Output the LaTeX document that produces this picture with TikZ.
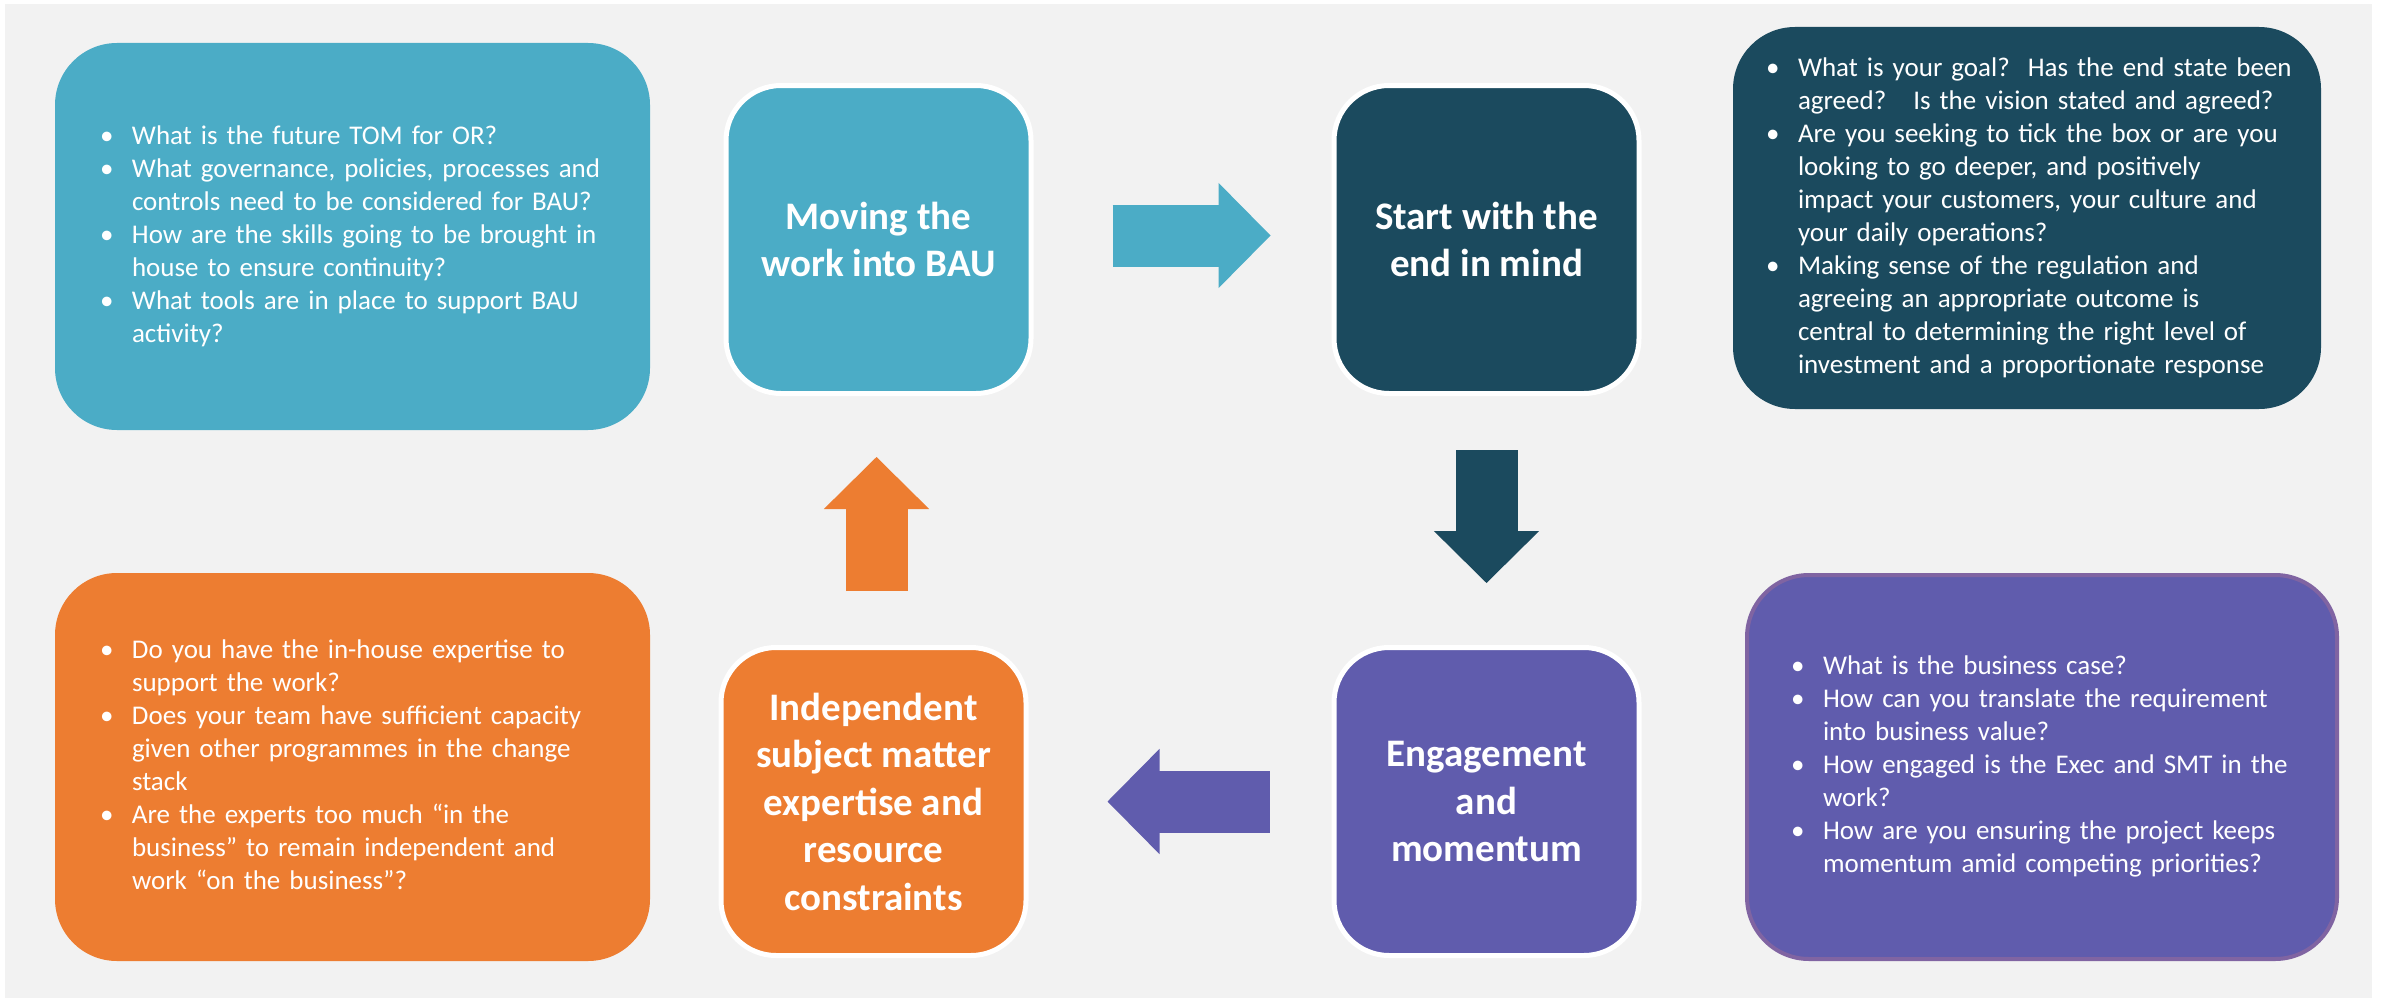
\documentclass[tikz,border=0pt]{standalone}
\usepackage{fontspec}
\setmainfont{Carlito}
\usepackage{xcolor}
\usepackage{tikz}
\usetikzlibrary{arrows.meta, positioning}
\definecolor{bauteal}{RGB}{75, 172, 198}
\definecolor{deepteal}{RGB}{27, 74, 94}
\definecolor{brandorange}{RGB}{237, 125, 49}
\definecolor{engagepurple}{RGB}{96, 92, 173}
\definecolor{lilacedge}{RGB}{128, 100, 162}
\definecolor{slidegray}{RGB}{242, 242, 242}
\tikzstyle{stage} = [
    rectangle, 
    rounded corners=55pt, 
    minimum width=305pt, 
    minimum height=308pt, 
    draw=white, 
    line width=5pt, 
    text=white, 
    align=center, 
    font=\fontsize{39}{47.5}\selectfont\bfseries
]
\tikzstyle{notes} = [
    rectangle, 
    rounded corners=62pt, 
    text=white, 
    align=left, 
    font=\fontsize{27}{33}\selectfont
]
\tikzstyle{flow} = [
    line width=62pt, 
    -{Triangle[length=52pt, width=105pt, line width=1.5pt]}
]
% bulleted questions, one row per printed line
\newcommand{\qlist}[1]{\noindent\begin{tabular}{@{}p{32pt}@{}l@{}}#1\end{tabular}}

\begin{document}
\begin{tikzpicture}[x=1pt, y=-1pt]
        \useasboundingbox (0,0) rectangle (2382,998);
        \fill[slidegray] (5,4) rectangle (2372,998);

        % the cycle
        \node[stage, fill=bauteal] (bau) at (878.5,239.5) {Moving the\\work into BAU};
        \node[stage, fill=deepteal, right=298pt of bau] (endmind) {Start with the\\end in mind};
        \node[stage, fill=engagepurple, below=249pt of endmind] (engage) {Engagement\\and\\momentum};
        \node[stage, fill=brandorange, left=303pt of engage] (subject) {Independent\\subject matter\\expertise and\\resource\\constraints};

        \draw[flow, bauteal, shorten <=79pt, shorten >=61pt] ([yshift=4pt]bau.east) -- ([yshift=4pt]endmind.west);
        \draw[flow, deepteal, shorten <=54pt, shorten >=62pt] (endmind.south) -- (engage.north);
        \draw[flow, engagepurple, shorten <=62pt, shorten >=79pt] (engage.west) -- (subject.east);
        \draw[flow, brandorange, shorten <=54pt, shorten >=61pt] ([xshift=3pt]subject.north) -- ([xshift=3pt]subject.north |- bau.south);

        % questions beside each stage
        \node[notes, fill=bauteal, text width=505pt, inner xsep=45pt, minimum height=387pt] (futuretom) at (352.5,236.5) {\qlist{
            \textbullet & What is the future TOM for OR?\\
            \textbullet & What governance, policies, processes and\\
                        & controls need to be considered for BAU?\\
            \textbullet & How are the skills going to be brought in\\
                        & house to ensure continuity?\\
            \textbullet & What tools are in place to support BAU\\
                        & activity?}};
        \node[notes, fill=deepteal, text width=522pt, inner xsep=33pt, minimum height=382pt] (goal) at (2027,218) {\qlist{
            \textbullet & What is your goal?\ \ Has the end state been\\
                        & agreed?\ \ \ Is the vision stated and agreed?\\
            \textbullet & Are you seeking to tick the box or are you\\
                        & looking to go deeper, and positively\\
                        & impact your customers, your culture and\\
                        & your daily operations?\\
            \textbullet & Making sense of the regulation and\\
                        & agreeing an appropriate outcome is\\
                        & central to determining the right level of\\
                        & investment and a proportionate response}};
        \node[notes, fill=brandorange, text width=505pt, inner xsep=45pt, minimum height=388pt] (inhouse) at (352.5,767) {\qlist{
            \textbullet & Do you have the in-house expertise to\\
                        & support the work?\\
            \textbullet & Does your team have sufficient capacity\\
                        & given other programmes in the change\\
                        & stack\\
            \textbullet & Are the experts too much “in the\\
                        & business” to remain independent and\\
                        & work “on the business”?}};
        \node[notes, fill=engagepurple, draw=lilacedge, line width=4pt, text width=502pt, inner xsep=44pt, minimum height=384pt] (bizcase) at (2042,767) {\qlist{
            \textbullet & What is the business case?\\
            \textbullet & How can you translate the requirement\\
                        & into business value?\\
            \textbullet & How engaged is the Exec and SMT in the\\
                        & work?\\
            \textbullet & How are you ensuring the project keeps\\
                        & momentum amid competing priorities?}};
    \end{tikzpicture}
\end{document}
